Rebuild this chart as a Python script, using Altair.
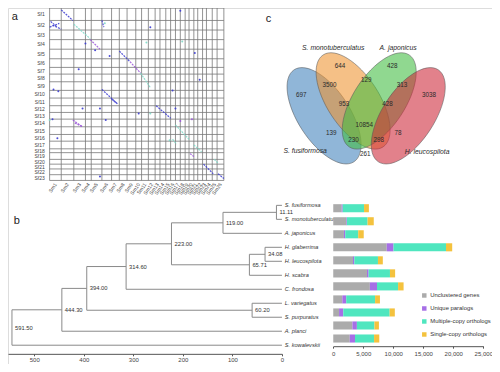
import altair as alt
import pandas as pd

FONT = "Liberation Sans"
W, H = 484, 356
SX, SY = 0.968, 0.958  # reference-pixel -> chart-pixel compression (layout only)


def px(v):
    return v * SX


def py(v):
    return v * SY


# ---------------- panel a : dot plot ----------------
row_labels = [f"Sf{i}" for i in range(1, 24)]
row_bounds = [0, 13, 23, 33, 43, 53, 62, 69, 77, 86, 94, 102, 109, 116, 124, 132, 139, 147, 151, 158, 163, 168, 174, 180]
col_labels = [f"Sm{i}" for i in range(1, 27)]
col_bounds = [0, 12, 25, 37, 43, 54, 64, 72, 80, 89, 95, 102, 109, 114, 120, 125, 130, 135, 140, 144, 149, 153, 158, 162, 168, 173, 180]

seg_x0 = [12, 1, 3, 0, 54, 25, 42, 72, 83, 94, 54, 64, 110, 24, 26, 130, 127, 149, 145, 159, 170, 174]
seg_y0 = [2, 14, 18, 20, 13, 17, 33, 45, 56, 68, 85, 95, 102, 117, 120, 122, 137, 143, 152, 163, 158, 173]
seg_x1 = [24, 8, 12, 10, 56, 42, 52, 83, 94, 104, 70, 70, 125, 34, 34, 144, 131, 157, 149, 169, 174, 180]
seg_y1 = [13, 20, 22, 16, 20, 32, 43, 56, 68, 83, 100, 100, 115, 124, 124, 137, 142, 150, 155, 173, 162, 178]
seg_kind = ["blue", "blue", "blue", "blue", "blue", "cyan", "purple", "blue", "purple", "cyan", "blue", "blue",
            "blue", "purple", "purple", "cyan", "cyan", "cyan", "purple", "blue", "cyan", "blue"]

dot_x = [4, 9, 104, 135, 150, 62, 47, 57, 0, 3, 8, 58, 34, 104, 124, 127, 130, 135, 92, 52, 30, 37, 137, 155, 52, 100, 147]
dot_y = [85, 87, 20, 3, 47, 50, 44, 16, 117, 116, 136, 117, 105, 110, 138, 86, 105, 118, 110, 105, 64, 37, 35, 75, 176, 36, 116]
dot_kind = ["blue", "blue", "blue", "blue", "blue", "blue", "blue", "cyan", "cyan", "blue", "blue", "blue", "blue",
            "cyan", "cyan", "blue", "blue", "purple", "blue", "blue", "blue", "blue", "cyan", "blue", "blue", "cyan", "purple"]

# ---------------- panel c : Venn ----------------
set_names = ["S. fusiformosa", "S. monotuberculatus", "A. japonicus", "H. leucospilota"]
set_u = [-0.435, -0.135, 0.135, 0.435]
set_v = [0.075, -0.08, -0.08, 0.075]
set_label_u = [-0.63, -0.34, 0.33, 0.63]
set_label_v = [0.44, -0.63, -0.63, 0.45]

region_counts = ["697", "644", "428", "3038", "3500", "129", "313", "953", "428", "10854", "139", "230", "298", "78", "261"]
region_u = [-0.67, -0.27, 0.27, 0.65, -0.38, 0.00, 0.37, -0.23, 0.22, -0.02, -0.36, -0.13, 0.13, 0.33, -0.01]
region_v = [-0.14, -0.44, -0.44, -0.14, -0.25, -0.30, -0.25, -0.05, -0.05, 0.17, 0.25, 0.33, 0.33, 0.25, 0.47]

# ---------------- panel b : tree ----------------
leaf_names = ["S. fusiformosa", "S. monotuberculatus", "A. japonicus", "H. glaberrima", "H. leucospilota",
              "H. scabra", "C. frondosa", "L. variegatus", "S. purpuratus", "A. planci", "S. kowalevskii"]
node_names = ["n1", "n2", "n3", "n4", "n5", "n6", "n7", "n8", "n9", "n10"]
node_labels = ["11.11", "119.00", "34.08", "65.71", "223.00", "314.60", "60.20", "394.00", "444.30", "591.50"]
node_ages = [11.11, 119.0, 34.08, 65.71, 223.0, 314.6, 60.2, 394.0, 444.3, 545.0]
node_child_a = ["S. fusiformosa", "n1", "H. glaberrima", "n3", "n2", "n5", "L. variegatus", "n6", "n8", "n9"]
node_child_b = ["S. monotuberculatus", "A. japonicus", "H. leucospilota", "H. scabra", "n4", "C. frondosa",
                "S. purpuratus", "n7", "A. planci", "S. kowalevskii"]
tree_ticks = [0, 100, 200, 300, 400, 500]

# ---------------- gene family bars ----------------
bar_categories = ["Unclustered genes", "Unique paralogs", "Multiple-copy orthologs", "Single-copy orthologs"]
unclustered = [1400, 2160, 1780, 8910, 3290, 5620, 6100, 1510, 970, 3190, 2750]
unique_paralogs = [170, 110, 220, 1130, 220, 270, 1190, 650, 700, 750, 870]
multi_copy = [3560, 3450, 2160, 8750, 3940, 3560, 3510, 4810, 7730, 2920, 3180]
single_copy = [810, 1030, 920, 1030, 810, 860, 920, 810, 860, 750, 870]
bar_ticks = [0, 5000, 10000, 15000, 20000, 25000]

# ======================= build tables =======================
vlines = pd.DataFrame({"x": col_bounds, "y0": 0, "y1": 180})
hlines = pd.DataFrame({"y": row_bounds, "x0": 0, "x1": 180})
rows_df = pd.DataFrame({"label": row_labels,
                        "c": [(row_bounds[i] + row_bounds[i + 1]) / 2 for i in range(len(row_labels))]})
cols_df = pd.DataFrame({"label": col_labels,
                        "c": [(col_bounds[i] + col_bounds[i + 1]) / 2 for i in range(len(col_labels))]})
seg_df = pd.DataFrame({"x0": seg_x0, "y0": seg_y0, "x1": seg_x1, "y1": seg_y1, "kind": seg_kind})
dot_df = pd.DataFrame({"x": dot_x, "y": dot_y, "kind": dot_kind})

# tree geometry from structure
age = {n: 0.0 for n in leaf_names}
ypos = {n: float(i) for i, n in enumerate(leaf_names)}
for n, a_, ca, cb in zip(node_names, node_ages, node_child_a, node_child_b):
    age[n] = a_
    ypos[n] = (ypos[ca] + ypos[cb]) / 2
h_rows, v_rows = [], []
for n, ca, cb in zip(node_names, node_child_a, node_child_b):
    v_rows.append({"x": age[n], "y0": ypos[ca], "y1": ypos[cb]})
    for c in (ca, cb):
        h_rows.append({"x0": age[n], "x1": age[c], "y": ypos[c]})
h_df = pd.DataFrame(h_rows)
v_df = pd.DataFrame(v_rows)
node_df = pd.DataFrame({"label": node_labels, "x": node_ages, "y": [ypos[n] for n in node_names]})
leaf_df = pd.DataFrame({"name": leaf_names, "y": [ypos[n] for n in leaf_names]})

bar_rows = []
for i, sp in enumerate(leaf_names):
    start = 0
    for cat, vals in zip(bar_categories, [unclustered, unique_paralogs, multi_copy, single_copy]):
        bar_rows.append({"sp": sp, "cat": cat, "x0": start, "x1": start + vals[i],
                         "y0": i - 0.31, "y1": i + 0.31})
        start += vals[i]
bar_df = pd.DataFrame(bar_rows)

# ======================= scales =======================
sa_x = alt.Scale(domain=[0, 180], range=[px(43), px(223)])
sa_y = alt.Scale(domain=[0, 180], range=[py(0), py(180)])
sv_x = alt.Scale(domain=[-1, 1], range=[px(270), px(470)])
sv_y = alt.Scale(domain=[-1, 1], range=[py(5), py(205)])
st_x = alt.Scale(domain=[0, 553], range=[px(283), 0])
st_y = alt.Scale(domain=[0, 10], range=[py(206), py(352)])
sb_x = alt.Scale(domain=[0, 25000], range=[px(336), px(491)])
sb_y = alt.Scale(domain=[0, 10], range=[py(209), py(345)])

kind_scale = alt.Scale(domain=["blue", "purple", "cyan"], range=["#3a3ad0", "#9a55d8", "#7fd9c9"])
bar_colors = ["#ababab", "#a66fe6", "#4fe6bf", "#f4c23e"]
GRID = "#777777"

layers = []
# panel a grid
layers.append(alt.Chart(vlines).mark_rule(color=GRID, strokeWidth=0.8).encode(
    x=alt.X("x:Q", scale=sa_x, axis=None), y=alt.Y("y0:Q", scale=sa_y, axis=None), y2="y1:Q"))
layers.append(alt.Chart(hlines).mark_rule(color=GRID, strokeWidth=0.8).encode(
    y=alt.Y("y:Q", scale=sa_y, axis=None), x=alt.X("x0:Q", scale=sa_x, axis=None), x2="x1:Q"))
layers.append(alt.Chart(seg_df).mark_rule(strokeWidth=1.2, opacity=0.85, strokeDash=[2, 1]).encode(
    x=alt.X("x0:Q", scale=sa_x, axis=None), y=alt.Y("y0:Q", scale=sa_y, axis=None), x2="x1:Q", y2="y1:Q",
    color=alt.Color("kind:N", scale=kind_scale, legend=None)))
layers.append(alt.Chart(dot_df).mark_circle(size=4, opacity=0.9).encode(
    x=alt.X("x:Q", scale=sa_x, axis=None), y=alt.Y("y:Q", scale=sa_y, axis=None),
    color=alt.Color("kind:N", scale=kind_scale, legend=None)))
layers.append(alt.Chart(rows_df).mark_text(align="right", baseline="middle", fontSize=5, color="#444").encode(
    x=alt.value(px(38)), y=alt.Y("c:Q", scale=sa_y, axis=None), text="label:N"))
layers.append(alt.Chart(cols_df).mark_text(align="right", baseline="middle", fontSize=5, color="#444", angle=305).encode(
    x=alt.X("c:Q", scale=sa_x, axis=None), y=alt.value(py(183)), text="label:N"))

# panel c Venn
venn_style = [
    {"fill": "#3f82bc", "angle": 57},
    {"fill": "#ee932e", "angle": 57},
    {"fill": "#3fbc3f", "angle": 303},
    {"fill": "#cd2637", "angle": 303},
]
K_RATIO = 27 / 57


def ellipse_path(k):
    c = 0.5523
    return (f"M -1 0 C -1 {-c * k:.4f} {-c:.4f} {-k:.4f} 0 {-k:.4f} "
            f"C {c:.4f} {-k:.4f} 1 {-c * k:.4f} 1 0 "
            f"C 1 {c * k:.4f} {c:.4f} {k:.4f} 0 {k:.4f} "
            f"C {-c:.4f} {k:.4f} -1 {c * k:.4f} -1 0 Z")


A_PX = 57 * (SX + SY) / 2
for i, st in enumerate(venn_style):
    d = pd.DataFrame({"u": [set_u[i]], "v": [set_v[i]], "name": [set_names[i]]})
    layers.append(alt.Chart(d).mark_point(
        shape=ellipse_path(K_RATIO), size=(2 * A_PX) ** 2, angle=st["angle"],
        fill=st["fill"], fillOpacity=0.58, stroke="#5a5a5a", strokeWidth=0.5, opacity=1).encode(
        x=alt.X("u:Q", scale=sv_x, axis=None), y=alt.Y("v:Q", scale=sv_y, axis=None)))
reg_df = pd.DataFrame({"t": region_counts, "u": region_u, "v": region_v})
layers.append(alt.Chart(reg_df).mark_text(fontSize=6.3, color="#2a2a2a", baseline="middle").encode(
    x=alt.X("u:Q", scale=sv_x, axis=None), y=alt.Y("v:Q", scale=sv_y, axis=None), text="t:N"))
setlab_df = pd.DataFrame({"t": set_names, "u": set_label_u, "v": set_label_v})
layers.append(alt.Chart(setlab_df).mark_text(fontSize=6.8, fontStyle="italic", color="#2a2a2a", baseline="middle").encode(
    x=alt.X("u:Q", scale=sv_x, axis=None), y=alt.Y("v:Q", scale=sv_y, axis=None), text="t:N"))

# panel b tree
TREE = "#8a8a8a"
layers.append(alt.Chart(h_df).mark_rule(color=TREE, strokeWidth=1).encode(
    x=alt.X("x0:Q", scale=st_x, axis=alt.Axis(
        orient="bottom", values=tree_ticks, labelExpr="format(datum.value, 'd')", offset=py(361) - H,
        title=None, grid=False, labelFontSize=6, labelColor="#444", tickSize=2, tickColor="#555",
        domainColor="#555", labelFlush=False, labelPadding=1)),
    x2="x1:Q", y=alt.Y("y:Q", scale=st_y, axis=None)))
layers.append(alt.Chart(v_df).mark_rule(color=TREE, strokeWidth=1).encode(
    x=alt.X("x:Q", scale=st_x, axis=None), y=alt.Y("y0:Q", scale=st_y, axis=None), y2="y1:Q"))
layers.append(alt.Chart(node_df).mark_text(align="left", baseline="middle", fontSize=5.8, dx=3, color="#333").encode(
    x=alt.X("x:Q", scale=st_x, axis=None), y=alt.Y("y:Q", scale=st_y, axis=None), text="label:N"))
layers.append(alt.Chart(leaf_df).mark_text(align="left", baseline="middle", fontSize=5.6, fontStyle="italic",
                                           color="#333").encode(
    x=alt.value(px(286)), y=alt.Y("y:Q", scale=st_y, axis=None), text="name:N"))

# bars
layers.append(alt.Chart(bar_df).mark_rect().encode(
    x=alt.X("x0:Q", scale=sb_x, axis=alt.Axis(
        orient="bottom", values=bar_ticks, labelExpr="format(datum.value, ',')", offset=py(353) - H,
        title=None, grid=False, labelFontSize=6, labelColor="#444", tickSize=2, tickColor="#555",
        domainColor="#555", labelFlush=False, labelPadding=2)),
    x2="x1:Q",
    y=alt.Y("y0:Q", scale=sb_y, axis=None), y2="y1:Q",
    color=alt.Color("cat:N", scale=alt.Scale(domain=bar_categories, range=bar_colors),
                    legend=alt.Legend(orient="none", legendX=px(427), legendY=py(297), title=None,
                                      symbolType="square", symbolSize=20, labelFontSize=5.9,
                                      labelColor="#333", rowPadding=6.0, symbolStrokeWidth=0,
                                      labelOffset=3, labelLimit=80))))

# panel letters
for letter, lx, ly in [("a", 7, 9), ("b", 9, 222), ("c", 269, 11)]:
    layers.append(alt.Chart(pd.DataFrame({"t": [letter]})).mark_text(
        fontSize=11, color="#222", baseline="middle", align="center").encode(
        x=alt.value(px(lx)), y=alt.value(py(ly)), text="t:N"))

chart = alt.layer(*layers).resolve_scale(
    x="independent", y="independent", color="independent"
).properties(
    width=W, height=H, padding=0, autosize=alt.AutoSizeParams(type="none")
).configure_view(strokeWidth=0).configure(font=FONT)

chart.save("out.html", embed_options={"renderer": "svg", "actions": False})
